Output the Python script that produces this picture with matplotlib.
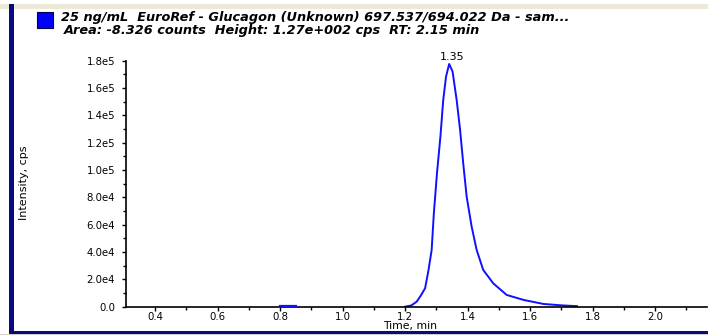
import matplotlib
matplotlib.use("Agg")
import matplotlib.pyplot as plt
from matplotlib.patches import Rectangle
from matplotlib.ticker import MultipleLocator, FuncFormatter

# chromatogram trace (time in min, intensity in cps)
time_blip = [0.80, 0.85]
int_blip = [600, 600]

time_peak = [1.20, 1.22, 1.237, 1.25, 1.264, 1.275, 1.285, 1.292, 1.302, 1.313,
             1.322, 1.331, 1.341, 1.352, 1.365, 1.376, 1.386, 1.397, 1.413, 1.429,
             1.45, 1.482, 1.525, 1.58, 1.643, 1.70, 1.75]
int_peak = [0, 900, 3700, 8000, 13500, 26900, 41500, 68300, 97600, 124400,
            151200, 168300, 177600, 172000, 151200, 129300, 104900, 80500, 58500, 41500,
            26900, 17100, 8600, 4900, 2000, 1000, 400]

peak_rt = 1.35
peak_label = "1.35"
y_ticks = [0, 2e4, 4e4, 6e4, 8e4, 1e5, 1.2e5, 1.4e5, 1.6e5, 1.8e5]
y_ticklabels = ["0.0", "2.0e4", "4.0e4", "6.0e4", "8.0e4", "1.0e5", "1.2e5", "1.4e5", "1.6e5", "1.8e5"]
x_ticks = [0.4, 0.6, 0.8, 1.0, 1.2, 1.4, 1.6, 1.8, 2.0]

title1 = "25 ng/mL  EuroRef - Glucagon (Unknown) 697.537/694.022 Da - sam..."
title2 = "Area: -8.326 counts  Height: 1.27e+002 cps  RT: 2.15 min"

W, H = 708, 335
FONT = "DejaVu Sans"
fig = plt.figure(figsize=(W / 100, H / 100), dpi=100)
fig.patch.set_facecolor("white")

# window chrome: beige strip at top, navy frame left and bottom
fig.add_artist(Rectangle((0, 1 - 9 / H), 1, 5 / H, transform=fig.transFigure,
                         color="#ECE9D8", lw=0))
fig.add_artist(Rectangle((9 / W, 1 / H), 4.5 / W, 1 - 5 / H, transform=fig.transFigure,
                         color="#0A0A80", lw=0))
fig.add_artist(Rectangle((9 / W, 1 / H), 1, 3 / H, transform=fig.transFigure,
                         color="#0A0A80", lw=0))
fig.add_artist(Rectangle((0, 0), 1, 1 / H, transform=fig.transFigure,
                         color="#D4D0C8", lw=0))

# legend swatch + header text
fig.add_artist(Rectangle((37 / W, 1 - 28 / H), 16 / W, 16 / H, transform=fig.transFigure,
                         facecolor="#0000FF", edgecolor="#000050", lw=0.8))
fig.text(61 / W, 1 - 17.5 / H, title1, fontsize=9.3, fontweight="bold", style="italic",
         family=FONT, va="center", ha="left")
fig.text(64 / W, 1 - 30.5 / H, title2, fontsize=9.3, fontweight="bold", style="italic",
         family=FONT, va="center", ha="left")

ax = fig.add_axes([126 / W, 28.3 / H, 581 / W, 246 / H])
ax.plot(time_blip, int_blip, color="#1010FF", lw=1.6, zorder=4, clip_on=False)
ax.plot(time_peak, int_peak, color="#1010FF", lw=1.4, zorder=1)
ax.set_xlim(0.307, 2.166)
ax.set_ylim(0, 1.8e5)

for s in ["top", "right"]:
    ax.spines[s].set_visible(False)
for s in ["left", "bottom"]:
    ax.spines[s].set_linewidth(1.2)
    ax.spines[s].set_zorder(3)

ax.set_yticks(y_ticks)
ax.set_yticklabels(y_ticklabels)
ax.set_xticks(x_ticks)
ax.xaxis.set_major_formatter(FuncFormatter(lambda v, p: f"{v:.1f}"))
ax.xaxis.set_minor_locator(MultipleLocator(0.1))
ax.yaxis.set_minor_locator(MultipleLocator(1e4))
ax.tick_params(which="major", length=2.8, width=1, labelsize=7.3)
ax.tick_params(which="minor", length=2.2, width=1)
ax.tick_params(axis="x", pad=1)
ax.tick_params(axis="y", pad=5)
for lab in ax.get_xticklabels() + ax.get_yticklabels():
    lab.set_family(FONT)

ax.set_xlabel("Time, min", fontsize=7.8, family=FONT)
ax.xaxis.set_label_coords((410 - 126) / 581, -(326.5 - 306.7) / 246)
ax.xaxis.label.set_va("center")
ax.set_ylabel("Intensity, cps", fontsize=8, family="Liberation Sans Narrow")
ax.yaxis.set_label_coords((24 - 126) / 581, 0.503)
ax.yaxis.label.set_va("center")

ax.annotate(peak_label, xy=(peak_rt, max(int_peak)), xytext=(0, 1.5),
            textcoords="offset points", ha="center", va="bottom", fontsize=8,
            family=FONT, annotation_clip=False)

fig.savefig("out.png", dpi=100)
